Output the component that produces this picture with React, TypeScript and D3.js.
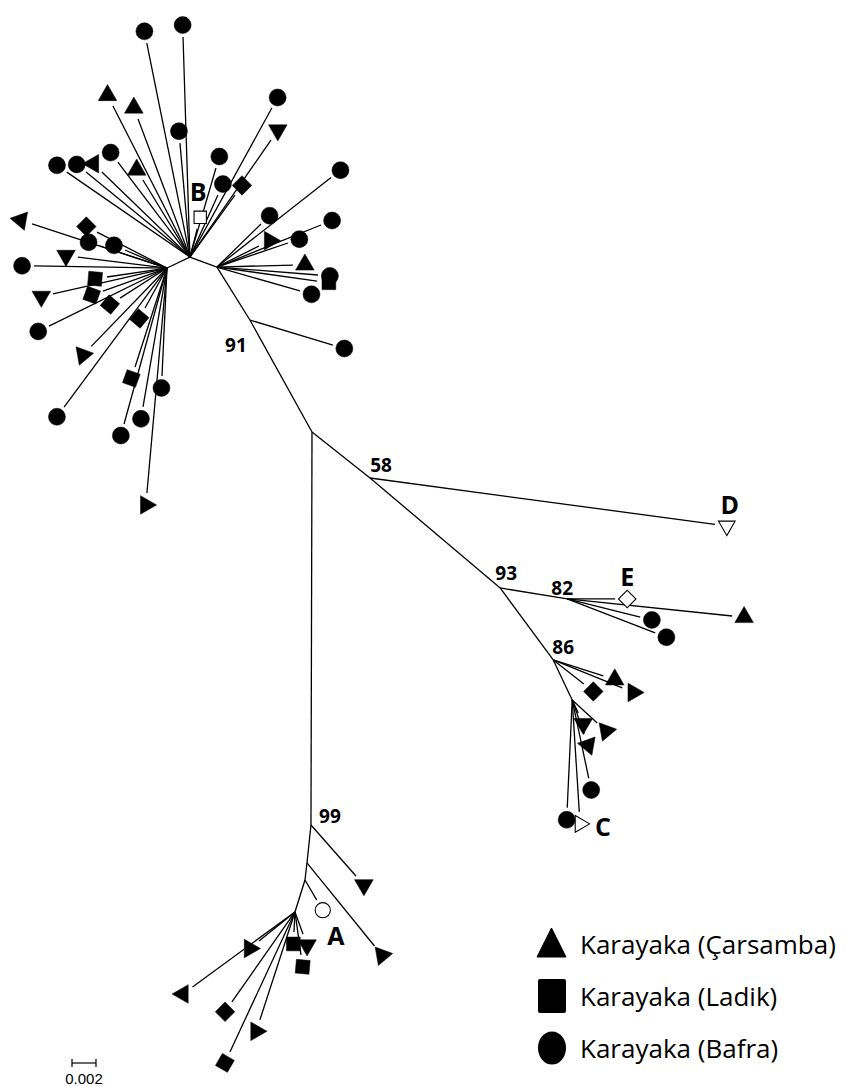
import { useEffect, useRef } from "react"
import * as d3 from "d3"

const W = 845, H = 1086

// internal branches: [id, parent, angle (deg, screen), length (subst./site)]
const internal: [string, string, number, number][] = [
  ["N58", "R", 38.4, 0.00617],
  ["N93", "N58", 40.2, 0.0142],
  ["N82", "N93", 9.3, 0.00566],
  ["N86", "N93", 53.6, 0.00745],
  ["N86b", "N86", 64.6, 0.00369],
  ["N99", "R", 90.15, 0.03275],
  ["Nb1", "N99", 96, 0.00318],
  ["Nb2", "Nb1", 96.7, 0.00143],
  ["Nb3", "Nb2", 107.4, 0.00279],
  ["N91", "R", -119, 0.01067],
  ["H3", "N91", -121.9, 0.0052],
  ["H1", "H3", -159.7, 0.0024],
  ["H2", "H1", 154.4, 0.00212],
]

// terminal branches: [parent, angle, length, symbol, marker rotation, reference label]
// symbol: t = Çarsamba, s = Ladik, c = Bafra
const leaves: [string, number, number, string, number, string?][] = [
  ["N58", 7.66, 0.029, "t", 180, "D"],
  ["N82", 5.9, 0.01382, "t", 0],
  ["N82", 0, 0.004, "s", 45, "E"],
  ["N82", 13.9, 0.00627, "c", 0],
  ["N82", 21.1, 0.00786, "c", 0],
  ["N86", 17.7, 0.00438, "t", 0],
  ["N86", 22.1, 0.00621, "t", -30],
  ["N86", 38.2, 0.00325, "s", 45],
  ["N86b", 42.6, 0.00283, "t", -40],
  ["N86b", 65.2, 0.00119, "t", 180],
  ["N86b", 70.6, 0.003, "t", 160],
  ["N86b", 78.1, 0.00667, "c", 0],
  ["N86b", 92.65, 0.009, "c", 0],
  ["N86b", 86.4, 0.00935, "t", 90, "C"],
  ["N99", 48.6, 0.00567, "t", -60],
  ["Nb1", 50.9, 0.00892, "t", 200],
  ["Nb2", 59.5, 0.00192, "c", 0, "A"],
  ["Nb3", 92.9, 0.00167, "s", 0],
  ["Nb3", 70, 0.00195, "t", 180],
  ["Nb3", 82, 0.00362, "s", 5],
  ["Nb3", 141.1, 0.00385, "t", -30],
  ["Nb3", 143.8, 0.01058, "t", -90],
  ["Nb3", 125, 0.00916, "s", 45],
  ["Nb3", 108, 0.00946, "t", -30],
  ["Nb3", 114.9, 0.01287, "s", 30],
  ["N91", 16.8, 0.00722, "c", 0],
  ["H3", -38.1, 0.01208, "c", 0],
  ["H3", -44.3, 0.00513, "c", 0],
  ["H3", -22, 0.00935, "c", 0],
  ["H3", -18.7, 0.00625, "c", 0],
  ["H3", -26.6, 0.00392, "t", 90],
  ["H3", -1.5, 0.00633, "t", 0],
  ["H3", 8, 0.00842, "s", 0],
  ["H3", 4.5, 0.00844, "c", 0],
  ["H3", 16.1, 0.0072, "c", 0],
  ["H1", -91.8, 0.01834, "c", 0],
  ["H1", -101.4, 0.01819, "c", 0],
  ["H1", -95, 0.00953, "c", 0],
  ["H1", -117, 0.01413, "t", 0],
  ["H1", -110.6, 0.01229, "t", 0],
  ["H1", -121.4, 0.00752, "t", 0],
  ["H1", -127.2, 0.00993, "c", 0],
  ["H1", -136, 0.0102, "t", 30],
  ["H1", -140.7, 0.01119, "c", 0],
  ["H1", -145.4, 0.01246, "c", 0],
  ["H1", -75.5, 0.00242, "s", 0, "B"],
  ["H1", -73.7, 0.00773, "c", 0],
  ["H1", -65.7, 0.00567, "c", 0],
  ["H1", -54, 0.00638, "s", 45],
  ["H1", -61.2, 0.01417, "c", 0],
  ["H1", -55.3, 0.01186, "t", 180],
  ["H2", -161.9, 0.01183, "t", -80],
  ["H2", -152.8, 0.00656, "s", 45],
  ["H2", -161.8, 0.00588, "c", 0],
  ["H2", -156.8, 0.00381, "c", 0],
  ["H2", -173, 0.00748, "t", 180],
  ["H2", -179.1, 0.01108, "c", 0],
  ["H2", 171.5, 0.00506, "s", 5],
  ["H2", 167.2, 0.00974, "t", 180],
  ["H2", 160.2, 0.00567, "s", 20],
  ["H2", 147.4, 0.00465, "s", 40],
  ["H2", 153.8, 0.01096, "c", 0],
  ["H2", 118.8, 0.0038, "s", 40],
  ["H2", 134, 0.00908, "t", -40],
  ["H2", 126.5, 0.01442, "c", 0],
  ["H2", 107.9, 0.00867, "s", 20],
  ["H2", 92.65, 0.009, "c", 0],
  ["H2", 99.8, 0.01175, "c", 0],
  ["H2", 105.4, 0.01348, "c", 0],
  ["H2", 95.1, 0.01882, "t", 90],
]

const supportNodes = ["N91", "N58", "N93", "N82", "N86", "N99"]
const supportValues = [91, 58, 93, 82, 86, 99]

const legendLabels = ["Karayaka (Çarsamba)", "Karayaka (Ladik)", "Karayaka (Bafra)"]
const legendSymbols = ["t", "s", "c"]

const scaleBarValue = 0.002

// label nudges (px)
const supportNudge: Record<string, [number, number]> = {
  N91: [-14, 25], N58: [11, -13], N93: [6, -15], N82: [-5, -11], N86: [10, -13], N99: [19, -9],
}
const refNudge: Record<string, [number, number]> = {
  A: [13, 25], B: [-2, -26], C: [23, 2], D: [3, -22], E: [0, -23],
}

const App = () => {
  const ref = useRef<SVGSVGElement>(null)

  useEffect(() => {
    const svg = d3.select(ref.current)
    svg.selectAll("*").remove()

    const x = d3.scaleLinear().domain([0, scaleBarValue]).range([312, 336])
    const y = d3.scaleLinear().domain([0, scaleBarValue]).range([432, 456])
    const rad = (a: number) => (a * Math.PI) / 180

    // node positions in tree units
    const pos: Record<string, [number, number]> = { R: [0, 0] }
    internal.forEach(([id, p, a, l]) => {
      const [px, py] = pos[p]
      pos[id] = [px + l * Math.cos(rad(a)), py + l * Math.sin(rad(a))]
    })

    const g = svg.append("g")

    // internal branches
    g.selectAll("line.int")
      .data(internal)
      .enter()
      .append("line")
      .attr("x1", d => x(pos[d[1]][0]))
      .attr("y1", d => y(pos[d[1]][1]))
      .attr("x2", d => x(pos[d[0]][0]))
      .attr("y2", d => y(pos[d[0]][1]))
      .attr("stroke", "#000")
      .attr("stroke-width", 1.3)

    const tips = leaves.map(([p, a, l, sym, rot, lab]) => {
      const [px, py] = pos[p]
      const ex = px + l * Math.cos(rad(a)), ey = py + l * Math.sin(rad(a))
      const gap = 12
      return {
        x1: x(px), y1: y(py), x2: x(ex), y2: y(ey),
        mx: x(ex) + gap * Math.cos(rad(a)), my: y(ey) + gap * Math.sin(rad(a)),
        sym, rot, lab,
      }
    })

    g.selectAll("line.tip")
      .data(tips)
      .enter()
      .append("line")
      .attr("x1", d => d.x1)
      .attr("y1", d => d.y1)
      .attr("x2", d => d.x2)
      .attr("y2", d => d.y2)
      .attr("stroke", "#000")
      .attr("stroke-width", 1.3)

    const symType: Record<string, d3.SymbolType> = { t: d3.symbolTriangle, s: d3.symbolSquare, c: d3.symbolCircle }
    const symSize: Record<string, number> = { t: 150, s: 190, c: 227 }

    g.selectAll("path.mk")
      .data(tips)
      .enter()
      .append("path")
      .attr("d", d => d3.symbol().type(symType[d.sym]).size(d.lab ? symSize[d.sym] * 0.8 : symSize[d.sym])() as string)
      .attr("transform", d => `translate(${d.mx},${d.my}) rotate(${d.rot})`)
      .attr("fill", d => (d.lab ? "#fff" : "#000"))
      .attr("stroke", "#000")
      .attr("stroke-width", d => (d.lab ? 1.1 : 0.5))

    // reference labels
    g.selectAll("text.ref")
      .data(tips.filter(d => d.lab))
      .enter()
      .append("text")
      .attr("x", d => d.mx + refNudge[d.lab as string][0])
      .attr("y", d => d.my + refNudge[d.lab as string][1])
      .attr("text-anchor", "middle")
      .attr("dominant-baseline", "central")
      .style("font-family", "'Open Sans', sans-serif")
      .style("font-weight", "bold")
      .style("font-size", "25px")
      .text(d => d.lab as string)

    // bootstrap values
    g.selectAll("text.bs")
      .data(supportNodes)
      .enter()
      .append("text")
      .attr("x", (d) => x(pos[d][0]) + supportNudge[d][0])
      .attr("y", (d) => y(pos[d][1]) + supportNudge[d][1])
      .attr("text-anchor", "middle")
      .attr("dominant-baseline", "central")
      .style("font-family", "'Open Sans', sans-serif")
      .style("font-weight", "bold")
      .style("font-size", "19px")
      .text((d, i) => supportValues[i])

    // legend
    const ly = d3.scalePoint<string>().domain(legendLabels).range([944, 1048])
    const leg = svg.append("g")
    legendLabels.forEach((lab, i) => {
      const cy = ly(lab) as number
      const s = legendSymbols[i]
      if (s === "t")
        leg.append("path").attr("d", `M537,${cy + 13}L566,${cy + 13}L551.5,${cy - 16}Z`).attr("fill", "#000")
          .attr("stroke", "#000").attr("stroke-linejoin", "round")
      else if (s === "s")
        leg.append("rect").attr("x", 538).attr("y", cy - 17).attr("width", 28).attr("height", 34).attr("rx", 2).attr("fill", "#000")
      else
        leg.append("ellipse").attr("cx", 552).attr("cy", cy).attr("rx", 14).attr("ry", 16.5).attr("fill", "#000")
      leg.append("text")
        .attr("x", 580)
        .attr("y", cy)
        .attr("dominant-baseline", "central")
        .style("font-family", "'Open Sans', sans-serif")
        .style("font-size", "26px")
        .text(lab)
    })

    // scale bar
    const bx0 = 72, bw = x(scaleBarValue) - x(0), by = 1063
    const sb = svg.append("g").attr("stroke", "#000").attr("stroke-width", 1.2)
    sb.append("line").attr("x1", bx0).attr("x2", bx0 + bw).attr("y1", by).attr("y2", by)
    sb.append("line").attr("x1", bx0).attr("x2", bx0).attr("y1", by - 4).attr("y2", by + 4)
    sb.append("line").attr("x1", bx0 + bw).attr("x2", bx0 + bw).attr("y1", by - 4).attr("y2", by + 4)
    svg.append("text")
      .attr("x", bx0 + bw / 2)
      .attr("y", 1084)
      .attr("text-anchor", "middle")
      .style("font-family", "'Liberation Sans', Arial, sans-serif")
      .style("font-size", "15px")
      .text(String(scaleBarValue))
  }, [])

  return (
    <div style={{ position: "absolute", left: 0, top: 0 }}>
      <svg ref={ref} width={W} height={H} style={{ display: "block", background: "#fff" }} />
    </div>
  )
}

export default App
